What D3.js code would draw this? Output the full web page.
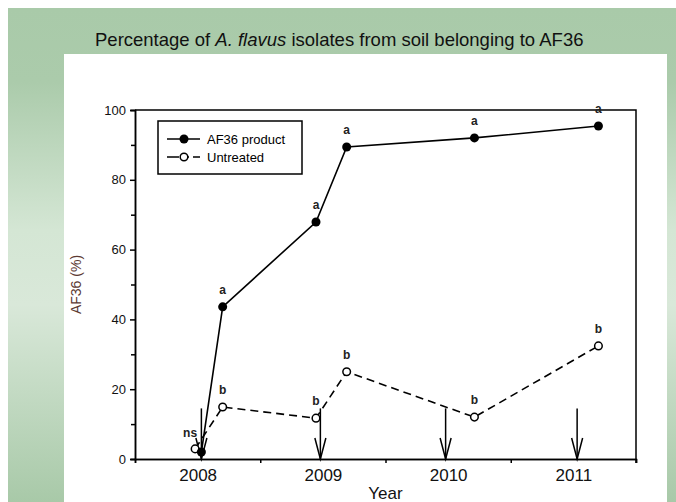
<!DOCTYPE html>
<html>
<head>
<meta charset="utf-8">
<script src="https://cdn.jsdelivr.net/npm/d3@7/dist/d3.min.js"></script>
<style>
  body { margin: 0; background: #fff; }
  svg { display: block; font-family: "Liberation Sans", Arial, sans-serif; }
</style>
</head>
<body>
<script>
// data
var af36Years = [2008.03, 2008.20, 2008.945, 2009.19, 2010.21, 2011.20];
var af36Values = [2.0, 43.6, 67.9, 89.4, 92.0, 95.4];
var af36Letters = ["", "a", "a", "a", "a", "a"];

var untreatedYears = [2007.98, 2008.20, 2008.945, 2009.19, 2010.21, 2011.20];
var untreatedValues = [2.9, 14.9, 11.7, 25.0, 12.0, 32.4];
var untreatedLetters = ["ns", "b", "b", "b", "b", "b"];

var applicationYears = [2008.03, 2008.98, 2009.98, 2011.03];
var arrowTop = 14.5;

var yearTicks = [2008, 2009, 2010, 2011];
var halfTicks = [2007.5, 2008.5, 2009.5, 2010.5, 2011.5];
var yTicks = [0, 20, 40, 60, 80, 100];
var yMinorTicks = [10, 30, 50, 70, 90];

var width = 676;
var height = 502;

var plot = { left: 135, right: 636, top: 110, bottom: 459 };

var x = d3.scaleLinear().domain([2007.5, 2011.5]).range([plot.left, plot.right]);
var y = d3.scaleLinear().domain([0, 100]).range([plot.bottom, plot.top]);

var svg = d3.select("body").append("svg").attr("width", width).attr("height", height);

// green slide background with soft vertical gradient
var grad = svg.append("defs").append("linearGradient")
    .attr("id", "bg").attr("x1", 0).attr("y1", 0).attr("x2", 0).attr("y2", 1);
[[0, "#a9caa9"], [0.15, "#abcbab"], [0.45, "#d4e6d4"], [0.6, "#d9e8d9"], [1, "#a8c9a8"]].forEach(function (s) {
    grad.append("stop").attr("offset", s[0]).attr("stop-color", s[1]);
});
svg.append("rect").attr("x", 8).attr("y", 8).attr("width", width - 8).attr("height", height - 8)
    .attr("fill", "url(#bg)");
svg.append("rect").attr("x", 64).attr("y", 54).attr("width", 603).attr("height", height - 54)
    .attr("fill", "#fff");

// title
var title = svg.append("text").attr("x", 95).attr("y", 46)
    .attr("font-size", 18.5).attr("fill", "#111");
title.append("tspan").text("Percentage of ");
title.append("tspan").attr("font-style", "italic").text("A. flavus");
title.append("tspan").text(" isolates from soil belonging to AF36");

// frame
svg.append("path")
    .attr("d", "M" + plot.left + "," + plot.top + "H" + plot.right + "V" + (plot.bottom + 4))
    .attr("fill", "none").attr("stroke", "#000").attr("stroke-width", 1.5);

// axes
var yAxis = d3.axisLeft(y).tickValues(yTicks).tickSize(5).tickPadding(4);
var yMinor = d3.axisLeft(y).tickValues(yMinorTicks).tickSize(4).tickFormat("");
var xAxis = d3.axisBottom(x).tickValues(yearTicks).tickSize(0).tickPadding(10).tickFormat(d3.format("d"));
var xMinor = d3.axisBottom(x).tickValues(halfTicks).tickSize(4).tickFormat("");

var gy = svg.append("g").attr("transform", "translate(" + plot.left + ",0)").call(yAxis);
svg.append("g").attr("transform", "translate(" + plot.left + ",0)").call(yMinor);
var gx = svg.append("g").attr("transform", "translate(0," + plot.bottom + ")").call(xAxis);
svg.append("g").attr("transform", "translate(0," + plot.bottom + ")").call(xMinor);

svg.selectAll(".domain").attr("stroke-width", 1.5).attr("stroke", "#000");
svg.selectAll(".tick line").attr("stroke-width", 1.5).attr("stroke", "#000");
gy.selectAll("text").attr("font-size", 13).attr("fill", "#111").attr("font-family", null);
gx.selectAll("text").attr("font-size", 17).attr("fill", "#111").attr("font-family", null);

// axis titles
svg.append("text").attr("transform", "translate(81," + y(50) + ") rotate(-90)")
    .attr("text-anchor", "middle").attr("font-size", 14).attr("fill", "#5c3a33")
    .text("AF36 (%)");
svg.append("text").attr("x", (plot.left + plot.right) / 2).attr("y", 499)
    .attr("text-anchor", "middle").attr("font-size", 17).attr("fill", "#111")
    .text("Year");

// application arrows
var arrows = svg.append("g").attr("stroke", "#000").attr("stroke-width", 1.5).attr("fill", "none");
applicationYears.forEach(function (d) {
    arrows.append("line").attr("x1", x(d)).attr("x2", x(d)).attr("y1", y(arrowTop)).attr("y2", y(0));
    arrows.append("path")
        .attr("d", "M" + (x(d) - 5.5) + "," + (y(0) - 21) + "L" + x(d) + "," + y(0) + "L" + (x(d) + 5.5) + "," + (y(0) - 21));
});

var line = d3.line().x(function (d) { return x(d[0]); }).y(function (d) { return y(d[1]); });

var af36 = d3.zip(af36Years, af36Values);
var untreated = d3.zip(untreatedYears, untreatedValues);

svg.append("path").attr("d", line(untreated)).attr("fill", "none")
    .attr("stroke", "#000").attr("stroke-width", 1.6).attr("stroke-dasharray", "8,5");
svg.append("path").attr("d", line(af36)).attr("fill", "none")
    .attr("stroke", "#000").attr("stroke-width", 1.6);

svg.selectAll(".pt-u").data(untreated).enter().append("circle")
    .attr("cx", function (d) { return x(d[0]); }).attr("cy", function (d) { return y(d[1]); })
    .attr("r", 3.8).attr("fill", "#fff").attr("stroke", "#000").attr("stroke-width", 1.5);
svg.selectAll(".pt-a").data(af36).enter().append("circle")
    .attr("cx", function (d) { return x(d[0]); }).attr("cy", function (d) { return y(d[1]); })
    .attr("r", 4.5).attr("fill", "#000");

// significance letters
svg.selectAll(".lab-a").data(af36).enter().append("text")
    .attr("x", function (d) { return x(d[0]); }).attr("y", function (d) { return y(d[1]) - 13; })
    .attr("text-anchor", "middle").attr("font-size", 12).attr("font-weight", "bold").attr("fill", "#222")
    .text(function (d, i) { return af36Letters[i]; });
svg.selectAll(".lab-u").data(untreated).enter().append("text")
    .attr("x", function (d, i) { return i === 0 ? x(d[0]) + 2 : x(d[0]); })
    .attr("y", function (d, i) { return i === 0 ? y(d[1]) - 12 : y(d[1]) - 13; })
    .attr("text-anchor", function (d, i) { return i === 0 ? "end" : "middle"; })
    .attr("font-size", 12).attr("font-weight", "bold").attr("fill", "#222")
    .text(function (d, i) { return untreatedLetters[i]; });

// legend
var legend = svg.append("g").attr("transform", "translate(158,121)");
legend.append("rect").attr("width", 144).attr("height", 53)
    .attr("fill", "#fff").attr("stroke", "#000").attr("stroke-width", 1.5);
legend.append("line").attr("x1", 9).attr("x2", 42).attr("y1", 18).attr("y2", 18)
    .attr("stroke", "#000").attr("stroke-width", 1.6);
legend.append("circle").attr("cx", 26).attr("cy", 18).attr("r", 4.5).attr("fill", "#000");
legend.append("text").attr("x", 49).attr("y", 22.5).attr("font-size", 13).text("AF36 product");
legend.append("line").attr("x1", 9).attr("x2", 42).attr("y1", 36).attr("y2", 36)
    .attr("stroke", "#000").attr("stroke-width", 1.6).attr("stroke-dasharray", "12,4,6,4");
legend.append("circle").attr("cx", 26).attr("cy", 36).attr("r", 3.8)
    .attr("fill", "#fff").attr("stroke", "#000").attr("stroke-width", 1.5);
legend.append("text").attr("x", 49).attr("y", 40.5).attr("font-size", 13).text("Untreated");
</script>
</body>
</html>
